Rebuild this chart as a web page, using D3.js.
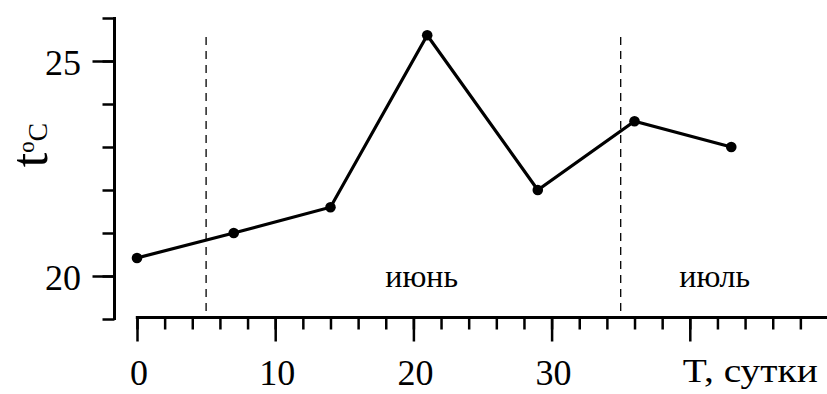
<!DOCTYPE html>
<html><head><meta charset="utf-8">
<script src="https://cdn.jsdelivr.net/npm/d3@7"></script>
<style>body{margin:0;background:#fff}svg{display:block}</style>
</head><body>
<script>
const days = [0, 7, 14, 21, 29, 36, 43];
const temps = [20.42, 21.0, 21.6, 25.6, 22.0, 23.6, 23.0];
const xMajorTicks = [0, 10, 20, 30];
const xTickLabels = ["0", "10", "20", "30"];
const yMajorTicks = [20, 25];
const yTickLabels = ["20", "25"];
const monthBounds = [5, 35];
const monthNames = ["июнь", "июль"];
const monthCenters = [20.6, 41.8];
const xTitle = "T, сутки";

const FONT = "'Liberation Serif', 'Times New Roman', Times, serif";
const W = 827, H = 394;
const svg = d3.select("body").append("svg").attr("width", W).attr("height", H)
  .attr("font-family", FONT).style("font-family", FONT);
const x = d3.scaleLinear().domain([0, 50]).range([137, 828]);
const y = d3.scaleLinear().domain([19, 26]).range([319, 18]);
const axisY = 317.5, axisX = 114.5;

// X axis
const gx = svg.append("g").attr("transform", `translate(0,${axisY})`);
gx.call(d3.axisBottom(x).tickValues(d3.range(0, 51, 2)).tickSize(12).tickFormat("").tickSizeOuter(0));
gx.call(g => g.select(".domain").remove());
gx.selectAll(".tick line").attr("stroke", "#000").attr("stroke-width", 2.5);
const gx2 = svg.append("g").attr("transform", `translate(0,${axisY})`);
gx2.call(d3.axisBottom(x).tickValues(d3.range(0, 51, 10)).tickSize(24).tickFormat("").tickSizeOuter(0));
gx2.select(".domain").remove();
gx2.selectAll(".tick line").attr("stroke", "#000").attr("stroke-width", 2.5);
svg.append("line").attr("x1", x(0) - 1.2).attr("x2", x(50)).attr("y1", axisY).attr("y2", axisY)
  .attr("stroke", "#000").attr("stroke-width", 3);
svg.selectAll("text.xl").data(xMajorTicks).enter().append("text")
  .attr("font-family", FONT)
  .attr("x", d => x(d) + 2).attr("y", 385).attr("text-anchor", "middle")
  .attr("font-size", 36).text((d, i) => xTickLabels[i]);
svg.append("text").attr("font-family", FONT).attr("x", x(40) - 7).attr("y", 382)
  .attr("font-size", 33).attr("textLength", 135).attr("lengthAdjust", "spacingAndGlyphs").text(xTitle);

// Y axis
const gy = svg.append("g").attr("transform", `translate(${axisX},0)`);
gy.call(d3.axisLeft(y).tickValues(d3.range(19, 27, 1)).tickSize(12).tickFormat("").tickSizeOuter(0));
gy.select(".domain").remove();
gy.selectAll(".tick line").attr("stroke", "#000").attr("stroke-width", 2.5);
const gy2 = svg.append("g").attr("transform", `translate(${axisX},0)`);
gy2.call(d3.axisLeft(y).tickValues(yMajorTicks).tickSize(22).tickFormat("").tickSizeOuter(0));
gy2.select(".domain").remove();
gy2.selectAll(".tick line").attr("stroke", "#000").attr("stroke-width", 2.5);
svg.append("line").attr("x1", axisX).attr("x2", axisX).attr("y1", y(26) - 1).attr("y2", y(19) + 1)
  .attr("stroke", "#000").attr("stroke-width", 3);
svg.selectAll("text.yl").data(yMajorTicks).enter().append("text")
  .attr("font-family", FONT)
  .attr("x", 81).attr("y", d => y(d) + 14).attr("text-anchor", "end")
  .attr("font-size", 36).text((d, i) => yTickLabels[i]);

// Y title t°C
const yt = svg.append("text").attr("font-family", FONT)
  .attr("transform", "translate(47,145) rotate(-90)").attr("text-anchor", "middle");
yt.append("tspan").attr("font-size", 52).text("t");
yt.append("tspan").attr("font-size", 23).attr("dy", -13).text("o");
yt.append("tspan").attr("font-size", 28).attr("dy", 13).text("C");

// Month boundaries
svg.selectAll("line.mb").data(monthBounds).enter().append("line")
  .attr("x1", d => x(d)).attr("x2", d => x(d)).attr("y1", 37).attr("y2", axisY)
  .attr("stroke", "#000").attr("stroke-width", 1.3).attr("stroke-dasharray", "8,6");
svg.selectAll("text.mn").data(monthNames).enter().append("text")
  .attr("font-family", FONT)
  .attr("x", (d, i) => x(monthCenters[i])).attr("y", 287).attr("text-anchor", "middle")
  .attr("font-size", 32).text(d => d);

// Data line
const pts = days.map((d, i) => [d, temps[i]]);
svg.append("path").datum(pts)
  .attr("d", d3.line().x(d => x(d[0])).y(d => y(d[1])))
  .attr("fill", "none").attr("stroke", "#000").attr("stroke-width", 3.2).attr("stroke-linejoin", "miter");
svg.selectAll("circle").data(pts).enter().append("circle")
  .attr("cx", d => x(d[0])).attr("cy", d => y(d[1])).attr("r", 5.3).attr("fill", "#000");
</script>
</body></html>
